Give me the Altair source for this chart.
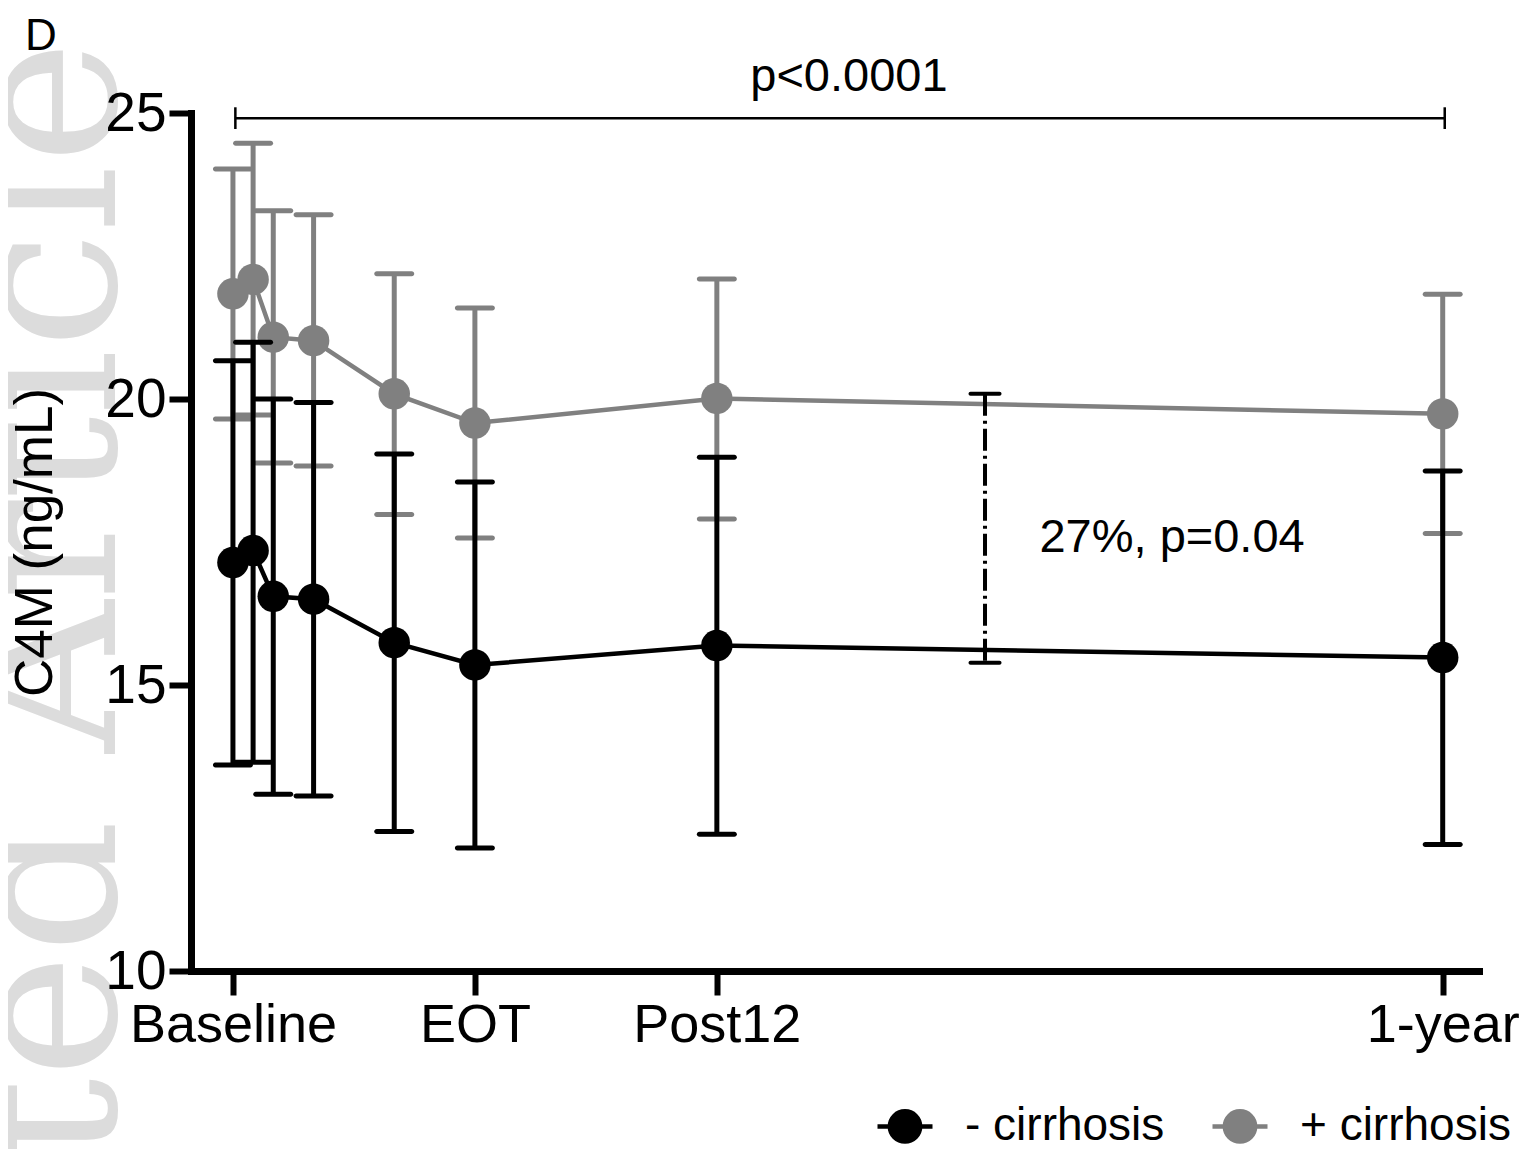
import altair as alt
import pandas as pd

# ---- data ----
weeks = [0, 1, 2, 4, 8, 12, 24, 60]

neg_mean = [17.14, 17.35, 16.55, 16.50, 15.74, 15.35, 15.69, 15.48]
neg_upper = [20.67, 20.99, 20.00, 19.94, 19.04, 18.55, 18.98, 18.74]
neg_lower = [13.60, 13.65, 13.09, 13.06, 12.44, 12.15, 12.39, 12.21]

pos_mean = [21.84, 22.09, 21.08, 21.02, 20.09, 19.58, 20.01, 19.74]
pos_upper = [24.02, 24.47, 23.29, 23.22, 22.19, 21.59, 22.10, 21.83]
pos_lower = [19.65, 19.72, 18.88, 18.83, 17.98, 17.57, 17.90, 17.65]

group_names = ["- cirrhosis", "+ cirrhosis"]
group_colors = ["#000000", "#808080"]

tick_values = [0, 12, 24, 60]
tick_labels = ["Baseline", "EOT", "Post12", "1-year"]
y_ticks = [10, 15, 20, 25]

# annotations
bracket_x = [0.12, 60.1]
bracket_y = [24.91]
bracket_tick = [25.10, 24.72]
bracket_text = ["p<0.0001"]
bracket_text_pos = [30.55, 25.63]

diff_x = [37.3]
diff_y = [20.09, 15.39]
diff_text = ["27%, p=0.04"]
diff_text_pos = [40.0, 17.57]

FONT = "Liberation Sans"

rows = []
for g, m_arr, lo_arr, hi_arr in [
    (group_names[1], pos_mean, pos_lower, pos_upper),
    (group_names[0], neg_mean, neg_lower, neg_upper),
]:
    for w, m, lo, hi in zip(weeks, m_arr, lo_arr, hi_arr):
        rows.append({"week": w, "mean": m, "lower": lo, "upper": hi, "group": g})
df = pd.DataFrame(rows)

label_expr = " : ".join(
    f"datum.value == {v} ? '{t}'" for v, t in zip(tick_values, tick_labels)
) + " : ''"

x_scale = alt.Scale(domain=[-2.08, 61.8], nice=False, zero=False)
y_scale = alt.Scale(domain=[10, 25], nice=False, zero=False)

x_axis = alt.Axis(
    values=tick_values, labelExpr=label_expr, title=None, grid=False,
    domainWidth=7, domainColor="black", domainCap="square",
    tickWidth=6, tickSize=24, tickColor="black",
    labelFontSize=54, labelFont=FONT, labelColor="black", labelPadding=3,
    labelFlush=False, labelOverlap=False, labelLimit=500, zindex=1,
)
y_axis = alt.Axis(
    values=y_ticks, title="C4M (ng/mL)", grid=False,
    domainWidth=7, domainColor="black", domainCap="square",
    tickWidth=6, tickSize=22, tickColor="black",
    labelFontSize=55, labelFont=FONT, labelColor="black", labelPadding=3,
    labelLimit=500,
    titleFont=FONT, titleFontSize=53, titleFontWeight="normal", titleColor="black",
    titleAngle=270, titleX=-156, titleY=429, titleAlign="center", titleBaseline="middle",
    titleLimit=1000, zindex=1,
)

legend_symbol = ("M-1,0L1,0M-0.55,0A0.55,0.55,0,1,0,0.55,0"
                 "A0.55,0.55,0,1,0,-0.55,0Z")

color = alt.Color(
    "group:N",
    scale=alt.Scale(domain=group_names, range=group_colors),
    legend=alt.Legend(
        orient="none", legendX=684, legendY=983, direction="horizontal",
        title=None, symbolType=legend_symbol, symbolSize=3025,
        symbolStrokeWidth=4.5, symbolOpacity=1,
        labelFont=FONT, labelFontSize=46, labelColor="black",
        labelOffset=30, columnPadding=38, labelLimit=0,
    ),
)

X = alt.X("week:Q", scale=x_scale, axis=x_axis)


def Yf(field):
    return alt.Y(f"{field}:Q", scale=y_scale, axis=y_axis)


def series_layers(name):
    base = alt.Chart(df).transform_filter(alt.datum.group == name)
    stems = base.mark_rule(strokeWidth=5).encode(
        x=X, y=Yf("lower"), y2="upper:Q", color=color)
    cap_hi = base.mark_tick(orient="horizontal", size=40, thickness=5,
                            cornerRadius=2.5, opacity=1).encode(
        x=X, y=Yf("upper"), color=color)
    cap_lo = base.mark_tick(orient="horizontal", size=40, thickness=5,
                            cornerRadius=2.5, opacity=1).encode(
        x=X, y=Yf("lower"), color=color)
    line = base.mark_line(strokeWidth=4.5).encode(
        x=X, y=Yf("mean"), color=color)
    pts = base.mark_point(filled=True, size=990, opacity=1).encode(
        x=X, y=Yf("mean"), color=color)
    return [stems, cap_hi, cap_lo, line, pts]


# watermark
wm = alt.Chart(pd.DataFrame({"t": ["Accepted Article"]})).mark_text(
    angle=270, font="DejaVu Serif", fontSize=210, color="#dcdcdc",
    align="right", baseline="alphabetic",
).encode(x=alt.value(-76), y=alt.value(-73), text="t:N")

# top bracket
br_df = pd.DataFrame({"x0": [bracket_x[0]], "x1": [bracket_x[1]], "y": bracket_y})
br_line = alt.Chart(br_df).mark_rule(strokeWidth=2.5, color="black").encode(
    x=alt.X("x0:Q", scale=x_scale, axis=x_axis), x2="x1:Q",
    y=alt.Y("y:Q", scale=y_scale, axis=y_axis))
br_ends_df = pd.DataFrame({"x": bracket_x, "ya": [bracket_tick[0]] * 2,
                           "yb": [bracket_tick[1]] * 2})
br_ends = alt.Chart(br_ends_df).mark_rule(strokeWidth=2.5, color="black").encode(
    x=alt.X("x:Q", scale=x_scale, axis=x_axis),
    y=alt.Y("ya:Q", scale=y_scale, axis=y_axis), y2="yb:Q")
br_txt = alt.Chart(pd.DataFrame({"x": [bracket_text_pos[0]], "y": [bracket_text_pos[1]],
                                 "t": bracket_text})).mark_text(
    font=FONT, fontSize=47, color="black", align="center", baseline="middle"
).encode(x=alt.X("x:Q", scale=x_scale, axis=x_axis),
         y=alt.Y("y:Q", scale=y_scale, axis=y_axis), text="t:N")

# difference annotation
diff_df = pd.DataFrame({"x": diff_x, "ya": [diff_y[0]], "yb": [diff_y[1]]})
diff_rule = alt.Chart(diff_df).mark_rule(
    strokeWidth=4, color="black", strokeDash=[22, 5, 3, 5]).encode(
    x=alt.X("x:Q", scale=x_scale, axis=x_axis),
    y=alt.Y("ya:Q", scale=y_scale, axis=y_axis), y2="yb:Q")
diff_caps_df = pd.DataFrame({"x": diff_x * 2, "y": diff_y})
diff_caps = alt.Chart(diff_caps_df).mark_tick(
    orient="horizontal", size=33, thickness=4, color="black", cornerRadius=2,
    opacity=1).encode(
    x=alt.X("x:Q", scale=x_scale, axis=x_axis),
    y=alt.Y("y:Q", scale=y_scale, axis=y_axis))
diff_txt = alt.Chart(pd.DataFrame({"x": [diff_text_pos[0]], "y": [diff_text_pos[1]],
                                   "t": diff_text})).mark_text(
    font=FONT, fontSize=47, color="black", align="left", baseline="middle"
).encode(x=alt.X("x:Q", scale=x_scale, axis=x_axis),
         y=alt.Y("y:Q", scale=y_scale, axis=y_axis), text="t:N")

layers = [wm] + series_layers(group_names[1]) + series_layers(group_names[0]) + [
    br_line, br_ends, br_txt, diff_rule, diff_caps, diff_txt]

chart = alt.layer(*layers).properties(
    width=1288, height=858,
    autosize=alt.AutoSizeParams(type="none"),
    padding={"left": 183, "top": 105, "right": 40, "bottom": 178},
    title=alt.TitleParams("D", anchor="start", frame="group", font=FONT,
                          fontSize=44, fontWeight="normal", color="black",
                          dx=-166, dy=23),
    background="white",
).configure_view(stroke=None)

chart.save("out.html", embed_options={"renderer": "svg", "actions": False})
